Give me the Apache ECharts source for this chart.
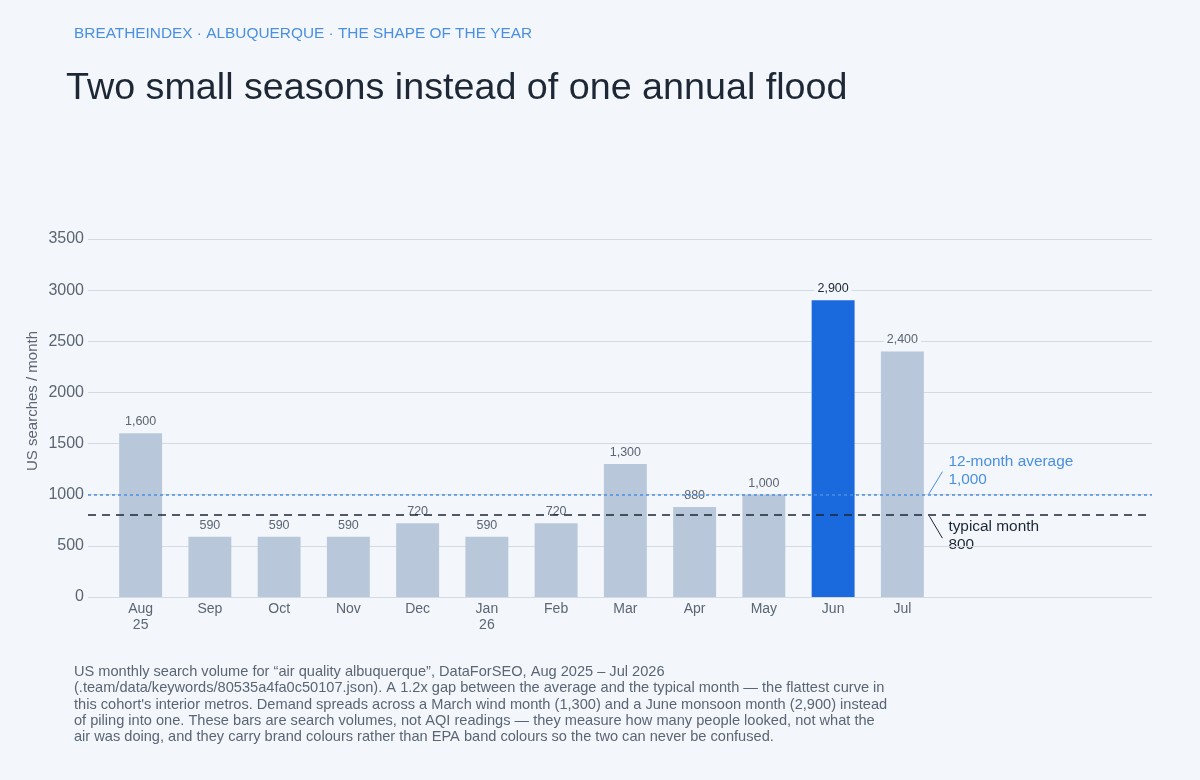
<!DOCTYPE html>
<html>
<head>
<meta charset="utf-8">
<style>
  html, body { margin: 0; padding: 0; background: #f3f7fb; }
  #chart { width: 1200px; height: 780px; }
</style>
<script src="https://cdn.jsdelivr.net/npm/echarts@6/dist/echarts.min.js"></script>
</head>
<body>
<div id="chart"></div>
<script>
var months = ['Aug\n25', 'Sep', 'Oct', 'Nov', 'Dec', 'Jan\n26', 'Feb', 'Mar', 'Apr', 'May', 'Jun', 'Jul'];
var searches = [1600, 590, 590, 590, 720, 590, 720, 1300, 880, 1000, 2900, 2400];
var peakIndex = 10;
var average = 1000;
var typical = 800;
var yTicks = { min: 0, max: 3500, interval: 500 };

var BG = '#f3f7fb';
var FONT = '"Liberation Sans", Arial, Helvetica, sans-serif';
var GREY = '#5b6573';
var INK = '#1d2735';
var BLUE = '#4a8fe2';

function fmt(v) { return v.toLocaleString('en-US'); }

var chart = echarts.init(document.getElementById('chart'));

var barData = searches.map(function (v, i) {
    return {
        value: v,
        itemStyle: { color: i === peakIndex ? '#1a69dd' : '#b8c8da' },
        label: { color: i === peakIndex ? INK : GREY }
    };
});

var footer = [
    'US monthly search volume for \u201cair quality albuquerque\u201d, DataForSEO, Aug 2025 \u2013 Jul 2026',
    '(.team/data/keywords/80535a4fa0c50107.json). A 1.2x gap between the average and the typical month \u2014 the flattest curve in',
    'this cohort\'s interior metros. Demand spreads across a March wind month (1,300) and a June monsoon month (2,900) instead',
    'of piling into one. These bars are search volumes, not AQI readings \u2014 they measure how many people looked, not what the',
    'air was doing, and they carry brand colours rather than EPA band colours so the two can never be confused.'
].join('\n');

var option = {
    backgroundColor: BG,
    animation: false,
    textStyle: { fontFamily: FONT },
    grid: [
        { left: 88, right: 48, top: 239, bottom: 183 },
        { left: 106, right: 263, top: 239, bottom: 183 }
    ],
    xAxis: [
        { gridIndex: 0, type: 'value', min: 0, max: 1, show: false },
        {
            gridIndex: 1, type: 'category', data: months,
            axisLine: { show: false }, axisTick: { show: false },
            axisLabel: { color: GREY, fontSize: 14, lineHeight: 16, margin: 4 }
        }
    ],
    yAxis: [
        {
            gridIndex: 0, type: 'value',
            min: yTicks.min, max: yTicks.max, interval: yTicks.interval,
            axisLine: { show: false }, axisTick: { show: false },
            axisLabel: { color: GREY, fontSize: 16, margin: 4, formatter: function (v) { return String(v); } },
            splitLine: { lineStyle: { color: '#d4dae2', width: 1 } }
        },
        {
            gridIndex: 1, type: 'value',
            min: yTicks.min, max: yTicks.max, interval: yTicks.interval,
            show: false, splitLine: { show: false }
        }
    ],
    series: [
        {
            type: 'line', xAxisIndex: 0, yAxisIndex: 0, data: [],
            silent: true,
            markLine: {
                silent: true, symbol: 'none', label: { show: false },
                data: [
                    { yAxis: typical, lineStyle: { color: INK, type: [8, 6], width: 1.6 } },
                    { yAxis: average, lineStyle: { color: BLUE, type: [3, 3], width: 1.6 } }
                ]
            }
        },
        {
            type: 'bar', xAxisIndex: 1, yAxisIndex: 1,
            data: barData, barWidth: '62%', z: 1,
            label: {
                show: true, position: 'top', distance: 4, fontSize: 12.5,
                backgroundColor: BG, padding: [1, 3],
                formatter: function (p) { return fmt(p.value); }
            }
        }
    ],
    graphic: [
        {
            type: 'text', left: 74, top: 26,
            style: { text: 'BREATHEINDEX \u00b7 ALBUQUERQUE \u00b7 THE SHAPE OF THE YEAR', fill: BLUE, fontSize: 15.4, fontFamily: FONT }
        },
        {
            type: 'text', left: 66, top: 70,
            style: { text: 'Two small seasons instead of one annual flood', fill: INK, fontSize: 37.7, fontFamily: FONT }
        },
        {
            type: 'text', x: 33, y: 401, rotation: Math.PI / 2,
            style: { text: 'US searches / month', fill: GREY, fontSize: 15, fontFamily: FONT, align: 'center', verticalAlign: 'middle' }
        },
        {
            type: 'text', left: 74, top: 664,
            style: { text: footer, fill: GREY, fontSize: 14.6, lineHeight: 16.2, fontFamily: FONT }
        }
    ]
};
chart.setOption(option);

// annotation labels next to the reference lines, placed from the axis scale
var xEnd = chart.convertToPixel({ gridIndex: 1 }, [months.length - 1, 0])[0] + 26;
var yAvg = chart.convertToPixel({ yAxisIndex: 0 }, average);
var yTyp = chart.convertToPixel({ yAxisIndex: 0 }, typical);
option.graphic.push(
    { type: 'line', shape: { x1: xEnd, y1: yAvg, x2: xEnd + 14, y2: yAvg - 23 }, style: { stroke: BLUE, lineWidth: 1 } },
    { type: 'text', left: xEnd + 20, top: yAvg - 42, style: { text: '12-month average\n' + fmt(average), fill: BLUE, fontSize: 15.4, lineHeight: 18, fontFamily: FONT } },
    { type: 'line', shape: { x1: xEnd + 1, y1: yTyp + 1, x2: xEnd + 14, y2: yTyp + 23 }, style: { stroke: INK, lineWidth: 1 } },
    { type: 'text', left: xEnd + 20, top: yTyp + 3, style: { text: 'typical month\n' + fmt(typical), fill: INK, fontSize: 15.4, lineHeight: 18, fontFamily: FONT } }
);
chart.setOption({ graphic: option.graphic });
</script>
</body>
</html>
